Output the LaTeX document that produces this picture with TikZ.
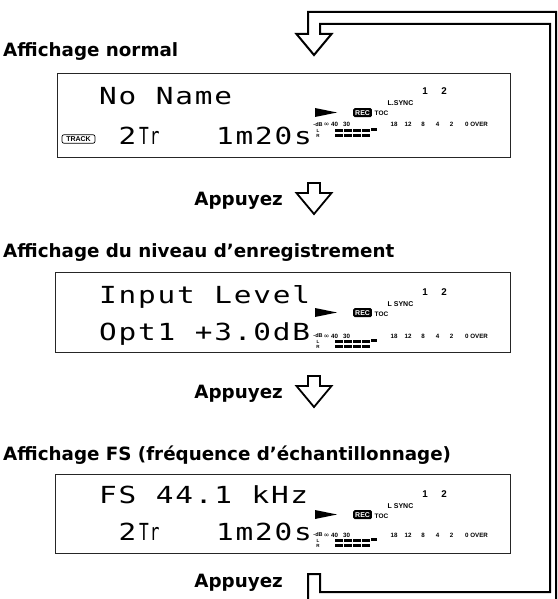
\documentclass[tikz,border=0pt]{standalone}
\usepackage{fontspec}
\usetikzlibrary{positioning}
\newfontfamily\headfont{DejaVu Sans}
\newfontfamily\lcdfont[FakeStretch=1.25, LetterSpace=7.7]{DejaVu Sans Mono}
\newfontfamily\tagfont{Liberation Sans}
\newfontfamily\symfont{DejaVu Sans}

\tikzset{
    % Headings and key prompts
    heading/.style={
        font=\headfont\bfseries\fontsize{18.3}{20}\selectfont,
        anchor=base west,
        inner sep=0pt
    },
    % Display panel
    lcdbox/.style={
        draw=black!85,
        line width=1.3pt,
        anchor=north west,
        inner sep=0pt
    },
    % Dot matrix characters
    lcdtext/.style={
        font=\lcdfont\fontsize{23.5}{24}\selectfont,
        anchor=base west,
        inner sep=0pt
    },
    % Small status marks
    tagtext/.style={
        font=\tagfont\bfseries\fontsize{6.2}{6.2}\selectfont,
        anchor=base,
        inner sep=0pt
    },
    % Hollow arrow outline
    bandline/.style={
        line width=1.8pt,
        draw=black,
        line join=miter
    },
    pressarrow/.pic={
        \draw[bandline, fill=white] (-6,0) -- (6,0) -- (6,10) -- (17.5,10)
            -- (0,31) -- (-17.5,10) -- (-6,10) -- cycle;
    }
}

% status marks and level meter of one panel
% #1 prefix, #2 top row, #3 meter row, #4 sync label
\newcommand{\lcdstatus}[4]{%
    \node[tagtext, font=\tagfont\bfseries\fontsize{9.8}{10}\selectfont] (#1one) at (425,#2+7) {1};
    \node[tagtext, font=\tagfont\bfseries\fontsize{9.8}{10}\selectfont] (#1two) at (444,#2+7) {2};
    \node[tagtext, font=\tagfont\bfseries\fontsize{7}{7}\selectfont] (#1sync) at (400.5,#2+18) {#4};
    \fill (315,#2+20) -- (337,#2+24.5) -- (315,#2+29) -- cycle;
    \node[tagtext, fill=black, text=white, rounded corners=1.5pt, inner xsep=2pt, inner ysep=2pt,
        anchor=base west, font=\tagfont\bfseries\fontsize{7}{7}\selectfont] (#1rec) at (353,#2+27) {REC};
    \node[tagtext, font=\tagfont\bfseries\fontsize{6.5}{6.5}\selectfont, anchor=base west] (#1toc) at (374.5,#2+28) {TOC};
    \node[tagtext, font=\tagfont\bfseries\fontsize{5.5}{5.5}\selectfont] (#1db) at (318,#3+4.5) {-dB};
    \node[tagtext, font=\tagfont\bfseries\fontsize{4.5}{4.5}\selectfont] (#1l) at (318,#3+10) {L};
    \node[tagtext, font=\tagfont\bfseries\fontsize{4.5}{4.5}\selectfont] (#1r) at (318,#3+15) {R};
    \node[tagtext, font=\symfont\fontsize{7}{7}\selectfont] (#1inf) at (326.5,#3+5) {∞};
    \foreach \v/\px in {40/334.5,30/346.5,18/394,12/408,8/423,4/437.5,2/451.5}
        \node[tagtext] (#1s\v) at (\px,#3+5) {\v};
    \node[tagtext, anchor=base west] (#1over) at (465,#3+5) {0 OVER};
    \foreach \k in {0,...,3} {
        \fill (335+9*\k,#3+7) rectangle ++(7.5,3.2);
        \fill (335+9*\k,#3+12) rectangle ++(7.5,3.2);
    }
    \fill (371,#3+5.5) rectangle ++(5.5,3.2);
}

\begin{document}
\begin{tikzpicture}[x=1pt, y=-1pt]
    \useasboundingbox (0,0) rectangle (557,599);
    \fill[white] (0,0) rectangle (557,599);

    % Normal display
    \node[heading] (h1) at (3,57) {Affichage normal};
    \node[lcdbox, minimum width=453, minimum height=84] (d1) at (57,73) {};
    \node[lcdtext] (n1) at (99,105) {No Name};
    \node[draw, rounded corners=2pt, line width=0.7pt, inner sep=0pt, minimum width=33, minimum height=8.5,
        font=\tagfont\bfseries\fontsize{7}{7}\selectfont] (trk) at (78.5,139) {TRACK};
    \node[lcdtext] (t1) at (118.5,144) {2};
    \node[lcdtext] (tr1) at (139,144) {\scalebox{.55}[1]{Tr}};
    \node[lcdtext] (m1) at (216,144) {1m20s};
    \lcdstatus{a}{88}{122}{L.SYNC}

    \node[heading, anchor=base east] (p1) at (283,205) {Appuyez};
    \pic (k1) at (314,183) {pressarrow};

    % Recording level display
    \node[heading] (h2) at (3,257) {Affichage du niveau d’enregistrement};
    \node[lcdbox, minimum width=455, minimum height=80] (d2) at (55,272) {};
    \node[lcdtext] (n2) at (99,303) {Input Level};
    \node[lcdtext] (m2) at (99,340) {Opt1 +3.0dB};
    \lcdstatus{b}{288}{333}{L SYNC}

    \node[heading, anchor=base east] (p2) at (283,398) {Appuyez};
    \pic (k2) at (314,376) {pressarrow};

    % Sampling frequency display
    \node[heading] (h3) at (3,460) {Affichage FS (fréquence d’échantillonnage)};
    \node[lcdbox, minimum width=455, minimum height=79] (d3) at (55,474) {};
    \node[lcdtext] (n3) at (99,503) {FS 44.1 kHz};
    \node[lcdtext] (t3) at (118.5,540) {2};
    \node[lcdtext] (tr3) at (139,540) {\scalebox{.55}[1]{Tr}};
    \node[lcdtext] (m3) at (216,540) {1m20s};
    \lcdstatus{c}{490}{532}{L SYNC}

    \node[heading, anchor=base east] (p3) at (283,587) {Appuyez};

    % Return loop back to the top
    \begin{scope}
        \clip (0,0) rectangle (557,599);
        \draw[bandline, line width=2pt] (308,604) -- (308,574) -- (320,574) -- (320,592)
            -- (550,592) -- (550,24) -- (320,24) -- (320,34) -- (331.5,34) -- (314,55)
            -- (296.5,34) -- (308,34) -- (308,12) -- (556,12) -- (556,604) -- cycle;
    \end{scope}
\end{tikzpicture}
\end{document}
